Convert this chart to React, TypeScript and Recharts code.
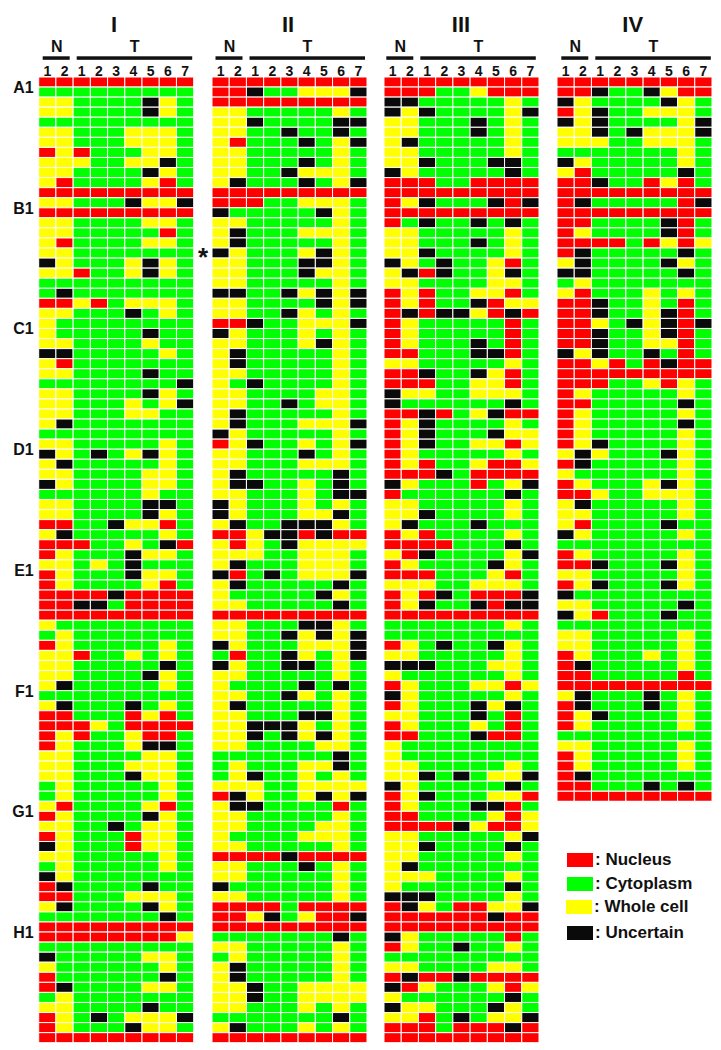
import React from "react";
import { BarChart, Bar, Cell, XAxis, YAxis } from "recharts";

const panelOneRows = [
"RRRRRRRRR","GGGGGGGGG","YYGGGGKYG","YYGGGGKYG","GGGGGGGGG","YYGGGYYYG","YYGGGYYYG","RYRGGGYYG","YYYGGYYKG","YYGGGGKYG","YRGGGGYRG","RRRRRRRRR",
"YYGGGKYYK","RRRRRRRRR","YYGGGGYYG","YYGGGGGRG","YRGGGGYYG","YYGGGGGGG","KYGGGYKYG","YYRGGYKYG","GGGGGGGGG","GKGGGGGGG","RRYRGYYYG","YYGGGKGYG",
"YGGGGGGGG","YGGGGGKGG","YYGGGGYGG","KKGGGGGYG","YRGGGGGGG","YYGGGGKGG","GGGGGGGGK","YYGGGGKYG","YYGGGYGYK","YYGGGYYGG","YKGGGGGGG","GGGGGGGGG",
"YYGGGGGYG","KYGKGYKYG","YKGGGGGYG","YYGGGGYYG","KYGGGGYYG","GGGGGGYGG","YYGGGGKKG","YYGGGGKYG","RRGGKYYRG","YKGGGGGYG","RRRGGYGKR","RYGGGKYYG",
"YYGYGKGGG","RYGGGKYYG","RYGGGGYRG","RRRRKRRRR","RRKKGRRRR","RRRRRRRRR","YGGGGGGGG","GYGGGGGGG","RYGGGGGYG","YYRGGYGYG","YYGGGGGKG","YYGGGGKYG",
"YKGGGGGYG","GGGGGGGGG","YKGGGKGYG","RRGGGRYRG","RRRYGRRRR","RYRGGYRRG","RYGGGYKKG","YYGGGGYYG","YYGGGYYYG","YYGGGKYYG","GYGGGGGYG","GYGGGGGYG",
"YRGGGGYRG","RYGGGGKYG","YYGGKGYYG","RYGGGRYYG","KYGGGRYYG","YYGGGGGYG","GYGGGGGYG","KYGGGGGGG","RKGGGGKGG","RRGGGYYYG","YKGGGGKYG","GGGGGGGKG",
"RRRRRRRRR","RRRRRRRRY","GGGGGGGGG","KGGGGGYYG","YGGGGGGYG","RGGGGGGKG","RKGGGGYYG","GYGGGGGGG","YYGGGGKGG","RYGKGYYYK","RYGGGKYYG","RRRRRRRRR",
];
const panelTwoRows = [
"RRRRRRRRR","RRKGGYYYK","RRRRRRRRR","YYGGGGGYG","YYKGGGGKK","YYGGKGGKG","YRGGGKGYK","YYGGGGGYG","YYGGGKGYG","YYGGKYYYG","YKGGGKGYK","RRRRRRRRR",
"RRRGGYYYG","KGGGGGKYG","YYGGGGGYG","YKGGGYYYG","YKGGGGGYG","KYGGGYKYG","YYGGGKKYG","YYGGGKYYG","YYGGGGGYG","KKGGKYKYK","YYGGGGKYK","YYGGKYGYG",
"RRKGGYYYK","KYGGGYGYG","YYGGGYKYG","YKGGGGGYG","YKGGGGGYG","YYGGGGGYG","YGKGGGGYG","YYGGGGYYG","YYGGKGYYG","YKGGGGGYG","YKGGGYYYK","KYGGGGGYG",
"RYKGGYGYK","YYGGGKGYG","YYGGGYYYG","YKGGGGGKG","YKKGGYGKG","YYGGGYGKK","KYGGGYGYG","KYGGGYYKG","YKGGKKKYG","RRYKKRKRR","YRYGKYYYY","YYYGGYYYG",
"YKGGGYYYG","KRGKGYYYK","YKGGGGGKG","YGGGGGKYG","YYGGGGGKG","RRRRRRRRR","YYGGGKKYG","YYGGKYKYK","KYGGGYYYK","GRGGKYGYK","KYGGKKGYG","YYGGGGGYG",
"YGGGGKGKG","YYGGKYGYG","YKGGGGGYG","YYGGGKKYG","YYKKKYGYG","YYKGKYKYG","YYGGGGYYG","GGGGGGGKG","GYGGGYYKG","GYKGGYGYG","YYYGGYYYY","RKYGGYKYK",
"YKKGGGGRG","YYGGGGGYG","YYGGGGYYG","YGGGGYYYG","YYGGGGGYG","RRRRKRRRR","YYGGGKGYG","YYGGGGGYG","KGGGGGGYG","YYGGGGGYG","RRRRGRRRR","RRYKGYRRK",
"RRRRRRRRR","GGGGGGGKG","YYGGGGGYG","GYGGGGGYG","YKGGGGGYG","YKGGGGGYG","YYKGGYYYY","YYKGGYYYY","YYGGGYGYG","GGGGGGGKG","YKGGGYGYG","RRRRRRRRR",
];
const panelThreeRows = [
"RRRRRRRRR","RRRGGYRRR","KKGGGGGYG","KYKGGGGYK","YYGGGKGYG","YYGGGKGYG","YKGGGGGYG","YYGGGGGYG","YYKGGGKKG","KYGGGGGKG","RRRGGRRRR","RRRRRRRRR",
"RYKGGGKRK","RRRRRRRRR","RGKGGKGKG","YYGGGGGYG","YYGGGKGYG","YYKGGGGYG","KYGKGGYRG","YKRKGGYKG","YYGGGGYYG","RYRGGYYRG","RYRGGKRYY","RKRKKYRKR",
"RYGGGGGRG","RYGGGGGRG","RYGGGKGRG","RRGGGKKRG","YYGGGGGYG","RRKGGKYRG","RRRGGYYRG","KYYGGYYYG","KGGGGGGKG","RRKRGYKRR","RYKGGGGYG","RYKGGGKYY",
"RYKGGYYRY","RYGGGGGYG","RYRGGYRRY","RRRKGRRRR","KYGGGRGYK","RGGGGGGKG","YYGGGGGYG","YYKGGGGYG","YKGGGKGGG","RYRGGGGYG","RRRRGGGKG","YRKGGGGYK",
"RYGGGGKYG","RRRGGGYRG","YYYGGYYYG","RYRKGRRRK","RYKGGKRKK","RRRRRRRRR","GGGGGGGYG","GGGGGGGGG","RYGKGGKYG","YYGGGGGYG","KKKGGGYYG","YGGGGGGYG",
"RYGGGYYRY","KYGGGGGYG","RYGGGKYKG","YYGGGKGRG","RYGGGYGRG","RRGGGKRRG","YGGGGGGGG","YGGGGGGGG","YYGGGGGYG","YYKGKGYYK","KYGGGGGKG","RYKGGGYYR",
"RYGGGKKRG","RRGGGGYRY","RRRRKYRRY","YYGGGGGYK","YYKGGGGKG","YYGGGGGYG","YKGGGGGGG","YYYGGGGYG","YGGGGGGKG","KKKGGGGYG","RKYGRRYYK","RRRRRRKRR",
"RRRRRRRRR","KYGGGGGRG","RYGGKGGYG","GGGGGGGGG","YYGGGGYYG","RKRRKRRRR","KRYGGGYRY","YGGGGGGKG","KYYGGGKYG","YYRGKGYYK","RRRGRRRKR","RRRRRRRRR",
];
const panelFourRows = [
"RRRRRRRRR","RRKGGKYRR","KYGGGGKYG","RYKGGYYYG","KYKGGGGYK","YYKGKYYYK","YYYGGYYYG","GGGGGGGYG","KYGGGGGYG","YRGGGGGKG","RRKGGRYRG","RRRRRRRRR",
"RKGGGGGRK","RRRRRRRRR","RRGGGGKRG","RYGGGGKRG","RRRRGRYRY","RKGGGGGKG","YKGGGGKYG","KKGGGGGKG","GYGGGGGGG","YRGGGYGYG","RRKGGYGRG","RRKGGYKRG",
"RRYGKYKRK","RRKGGYKRG","RRKGGYYRG","KYKGGKGRG","RRYRGRKRR","RRRRRRRRR","RRRGGYRYG","RYGGGGGYG","RRGGGGGKG","RYGGGGGYG","RYGGGGGKG","RYGGGGGYG",
"RYKGGGGYG","YKYGGGKYG","RKGGGGGYG","YGGGGGGYG","RYGGGYKYG","RRYGGYYYG","YKGGGGGYG","YYGGGGGYG","YRGGGGKGG","KYGGGGGYG","GGGGGGGGG","RYGGGGGYG",
"RRKGGGKYG","YYGGGGGYG","RYKGGGKYG","KGGGGGGGG","YYGGGGGKG","KYRGGGKGG","GGGGGGGGG","YYGGGGGYG","YYGGGGGYG","RYGGGYGYG","RKGGGGGYG","RRGGGGGRG",
"RRRRRRRRR","YKGGGKGYG","RKGGGKGYG","RYKGGGGYG","RYGGGGGYG","GGGGGGGGG","YYGGGGGYG","RYGGGGGYG","RYGGGGGYG","RKGGGGGGG","RRGGGKGKG","RRRRRRRRR",
];

const columnLabels = ["1", "2", "1", "2", "3", "4", "5", "6", "7"];
const columnKeys = ["c0", "c1", "c2", "c3", "c4", "c5", "c6", "c7", "c8"];
const columnTicks = [0.5, 1.5, 2.5, 3.5, 4.5, 5.5, 6.5, 7.5, 8.5];
const rowGroups = ["A", "B", "C", "D", "E", "F", "G", "H"];
const legendItems = [
  { code: "R", label: ": Nucleus" },
  { code: "G", label: ": Cytoplasm" },
  { code: "Y", label: ": Whole cell" },
  { code: "K", label: ": Uncertain" },
];
const colors: Record<string, string> = { R: "#ff0000", G: "#00ff00", Y: "#ffff00", K: "#0a0a0a" };

const FONT = "'Liberation Sans', Arial, sans-serif";
const ROW_H = 10.06;
const TOP = 77;
const AXIS_H = 16;
const PANEL_W = 155;

const panels = [
  { title: "I", rows: panelOneRows, left: 38.7, gutter: 38.7, head: 0, titleX: 114 },
  { title: "II", rows: panelTwoRows, left: 211.5, gutter: 0, head: 0, titleX: 288 },
  { title: "III", rows: panelThreeRows, left: 384.3, gutter: 0, head: -2, titleX: 461 },
  { title: "IV", rows: panelFourRows, left: 557.3, gutter: 0, head: 0, titleX: 632.7 },
];

const rowName = (i: number) => `${rowGroups[Math.floor(i / 12)]}${(i % 12) + 1}`;

const RowTick = (props: any) => {
  const { x, y, payload } = props;
  if (!String(payload.value).endsWith("1") || String(payload.value).endsWith("11")) return null;
  return (
    <text x={x + 3} y={y + 11} textAnchor="end" fontFamily={FONT} fontWeight={700} fontSize={16} fill="#111">
      {payload.value}
    </text>
  );
};

function Panel({ rows, left, gutter }: { rows: string[]; left: number; gutter: number }) {
  const data = rows.map((r, i) => {
    const row: Record<string, any> = { row: rowName(i) };
    columnKeys.forEach((k) => (row[k] = 1));
    return row;
  });
  return (
    <div style={{ position: "absolute", left: left - gutter, top: TOP - AXIS_H }}>
      <BarChart
        width={PANEL_W + gutter}
        height={AXIS_H + rows.length * ROW_H}
        data={data}
        layout="vertical"
        barCategoryGap={0}
        barGap={0}
        margin={{ top: 0, right: 0, bottom: 0, left: 0 }}
      >
        <XAxis
          type="number"
          orientation="top"
          domain={[0, 9]}
          ticks={columnTicks}
          interval={0}
          height={AXIS_H}
          axisLine={false}
          tickLine={false}
          tickSize={0}
          tickMargin={1}
          tickFormatter={(_: number, i: number) => columnLabels[i]}
          tick={{ fontFamily: FONT, fontWeight: 700, fontSize: 14, fill: "#111" }}
        />
        <YAxis
          type="category"
          dataKey="row"
          hide={gutter === 0}
          width={gutter}
          interval={0}
          axisLine={false}
          tickLine={false}
          tick={<RowTick />}
        />
        {columnKeys.map((k, c) => (
          <Bar key={k} dataKey={k} stackId="a" isAnimationActive={false} stroke="#ffffff" strokeWidth={1}>
            {rows.map((r, i) => (
              <Cell key={i} fill={colors[r[c]]} stroke="#ffffff" strokeWidth={1} />
            ))}
          </Bar>
        ))}
      </BarChart>
    </div>
  );
}

export default function App() {
  return (
    <div style={{ position: "absolute", left: 0, top: 0, width: 721, height: 1050, background: "#fff", overflow: "hidden" }}>
      <svg width={721} height={62} style={{ position: "absolute", left: 0, top: 0 }}>
        {panels.map((p) => {
          const o = p.left + p.head;
          return (
            <g key={p.title} fontFamily={FONT} fontWeight={700} fill="#111" textAnchor="middle">
              <text x={p.titleX} y={32} fontSize={22}>{p.title}</text>
              <text x={o + 18} y={52} fontSize={16}>N</text>
              <text x={o + 96} y={52} fontSize={16}>T</text>
              <rect x={o + 4} y={56.3} width={27} height={3.5} fill="#111" />
              <rect x={o + 38} y={56.3} width={115.5} height={3.5} fill="#111" />
            </g>
          );
        })}
      </svg>
      {panels.map((p) => (
        <Panel key={p.title} rows={p.rows} left={p.left} gutter={p.gutter} />
      ))}
      <div style={{ position: "absolute", left: 198, top: 242, fontFamily: FONT, fontWeight: 700, fontSize: 26, color: "#111", lineHeight: "30px" }}>*</div>
      {legendItems.map((item, i) => (
        <div key={item.code} style={{ position: "absolute", left: item.code === "Y" ? 566 : 567, top: [853, 877, 900, 926][i], height: 14, display: "flex", alignItems: "center" }}>
          <div style={{ width: 26, height: 14, background: colors[item.code] }} />
          <span style={{ fontFamily: FONT, fontWeight: 700, fontSize: 17, color: "#111", marginLeft: 2, whiteSpace: "nowrap" }}>{item.label}</span>
        </div>
      ))}
    </div>
  );
}
